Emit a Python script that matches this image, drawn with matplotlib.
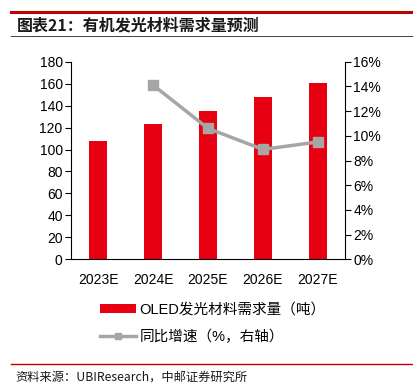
import matplotlib
matplotlib.use("Agg")
import matplotlib.pyplot as plt
from matplotlib.lines import Line2D
from matplotlib.patches import Patch

plt.rcParams['font.family'] = ['Liberation Sans', 'Noto Sans CJK SC', 'DejaVu Sans']

categories = ["2023E", "2024E", "2025E", "2026E", "2027E"]
demand = [108, 123, 135, 147.5, 161]
growth_cats = ["2024E", "2025E", "2026E", "2027E"]
growth = [14.1, 10.6, 8.9, 9.5]
left_ticks = [0, 20, 40, 60, 80, 100, 120, 140, 160, 180]
right_ticks = [0, 2, 4, 6, 8, 10, 12, 14, 16]

W, H = 414, 390
fig = plt.figure(figsize=(W / 100, H / 100), dpi=100)

ax = fig.add_axes([71 / W, 1 - 259.3 / H, (345 - 71) / W, (259.3 - 61.7) / H])
x = list(range(len(categories)))
ax.bar(x, demand, width=0.33, color="#E60012", zorder=2)
ax.set_xlim(-0.5, len(categories) - 0.5)
ax.set_ylim(0, 180)
ax.set_yticks(left_ticks)
ax.set_yticklabels([str(t) for t in left_ticks])
ax.set_xticks(x)
ax.set_xticklabels(categories)
ax.tick_params(axis='x', length=0, pad=10, labelsize=10, colors='#000000')
ax.tick_params(axis='y', length=4, width=0.8, pad=2, labelsize=10, direction='out')
for s in ['top', 'right']:
    ax.spines[s].set_visible(False)
ax.spines['left'].set_linewidth(0.8)
ax.spines['bottom'].set_linewidth(0.8)

ax2 = ax.twinx()
gx = [categories.index(c) for c in growth_cats]
ax2.plot(gx, growth, color="#A6A6A6", lw=2.5, marker='s', markersize=7, zorder=3)
ax2.set_ylim(0, 16)
ax2.set_yticks(right_ticks)
ax2.set_yticklabels([f"{t}%" for t in right_ticks])
ax2.tick_params(axis='y', length=4, width=0.8, pad=2, labelsize=10, direction='out')
for s in ['top', 'left', 'bottom']:
    ax2.spines[s].set_visible(False)
ax2.spines['right'].set_linewidth(0.8)

handles = [
    Patch(facecolor="#E60012", edgecolor="none"),
    Line2D([0], [0], color="#A6A6A6", lw=2.5, marker='s', markersize=5),
]
labels = ["OLED发光材料需求量（吨）", "同比增速（%，右轴）"]
fig.legend(handles, labels, loc='upper left', bbox_to_anchor=(94 / W, 1 - 297 / H),
           frameon=False, fontsize=10.5, handlelength=2.5, handleheight=0.6,
           labelspacing=0.9, handletextpad=0.2, borderaxespad=0)

# header
fig.add_artist(Line2D([11 / W, 1], [1 - 11.5 / H] * 2, color="#C00000", lw=2.2))
fig.text(17 / W, 1 - 26 / H, "图表21：有机发光材料需求量预测", fontsize=11.5, fontweight='bold',
         family=['Noto Sans CJK SC'], va='center', ha='left', color='#1a1a1a')
fig.add_artist(Line2D([11 / W, 1], [1 - 36 / H] * 2, color="#404040", lw=0.7))

# footer
fig.add_artist(Line2D([11 / W, 1], [1 - 364 / H] * 2, color="#C00000", lw=1.0))
fig.text(15 / W, 1 - 377 / H, "资料来源：UBIResearch，中邮证券研究所", fontsize=8.8,
         family=['Noto Sans CJK SC'], va='center', ha='left', color='#1a1a1a')

fig.savefig("out.png", dpi=100)
